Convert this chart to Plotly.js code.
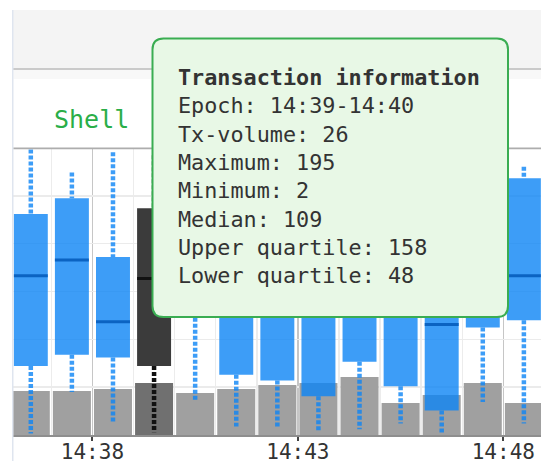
<!DOCTYPE html>
<html>
<head>
<meta charset="utf-8">
<script src="https://cdn.plot.ly/plotly-3.0.1.min.js"></script>
<style>html,body{margin:0;padding:0;background:#fff;}#chart{width:541px;height:461px;}</style>
</head>
<body>
<div id="chart"></div>
<script>
// ---- data ----
const epochs = ['14:36','14:37','14:38','14:39','14:40','14:41','14:42','14:43','14:44','14:45','14:46','14:47','14:48'];
const txVolume = [22, 22, 23, 26, 21, 23, 25, 26, 29, 16, 20, 26, 16];
const maximum = [199, 183, 197, 195, 190, 192, 185, 198, 180, 190, 170, 175, 187];
const minimum = [1, 30, 8, 2, 24, 6, 5, 2, 4, 8, 1, 23, 8];
const median = [111, 122, 79, 109, 125, 110, 100, 105, 95, 90, 77, 110, 111];
const upperQuartile = [154, 165, 124, 158, 160, 165, 150, 170, 150, 140, 130, 135, 179];
const lowerQuartile = [48, 56, 54, 48, 90, 42, 38, 27, 51, 34, 17, 75, 80];
const selectedIndex = 3;
const seriesLabel = 'Shell';

// ---- helpers ----
function toMs(hm, sec) {
  const p = hm.split(':');
  return Date.UTC(2024, 4, 20, +p[0], +p[1], sec || 0);
}
const W = 541, H = 461, ML = 13, MR = 0, MT = 148, MB = 26;
const PW = W - ML - MR, PH = H - MT - MB;
const xp = px => (px - ML) / PW;
const yp = py => (H - MB - py) / PH;

const centers = epochs.map(e => toMs(e, 30));
const boxHalf = 24800, boxW = 49600, volW = 55500;

const blue = 'rgba(13,132,245,0.8)';
const medBlue = '#0b63c2';
const dark = '#3b3b3b';
const darkLine = '#111111';

function whiskerXY(idx) {
  const x = [], y = [];
  idx.forEach(i => {
    x.push(centers[i], centers[i], null, centers[i], centers[i], null);
    y.push(maximum[i], upperQuartile[i], null, lowerQuartile[i], minimum[i], null);
  });
  return {x, y};
}
function medianXY(idx) {
  const x = [], y = [];
  idx.forEach(i => {
    x.push(centers[i] - boxHalf, centers[i] + boxHalf, null);
    y.push(median[i], median[i], null);
  });
  return {x, y};
}
const all = epochs.map((_, i) => i);
const normal = all.filter(i => i !== selectedIndex);
const sel = [selectedIndex];

const wN = whiskerXY(normal), wS = whiskerXY(sel);
const mN = medianXY(normal), mS = medianXY(sel);

const traces = [
  {type: 'bar', x: centers, y: txVolume, width: volW, yaxis: 'y',
   marker: {color: all.map(i => i === selectedIndex ? '#707070' : '#a0a0a0'), line: {width: 0}},
   hoverinfo: 'skip'},
  {type: 'bar', x: centers, base: lowerQuartile, y: all.map(i => upperQuartile[i] - lowerQuartile[i]),
   width: boxW, yaxis: 'y2',
   marker: {color: all.map(i => i === selectedIndex ? dark : blue), line: {width: 0}},
   hoverinfo: 'skip'},
  {type: 'scatter', mode: 'lines', x: wN.x, y: wN.y, yaxis: 'y2',
   line: {color: blue, width: 4.5, dash: '4px,2px'}, hoverinfo: 'skip'},
  {type: 'scatter', mode: 'lines', x: wS.x, y: wS.y, yaxis: 'y2',
   line: {color: darkLine, width: 4.5, dash: '4px,2px'}, hoverinfo: 'skip'},
  {type: 'scatter', mode: 'lines', x: mN.x, y: mN.y, yaxis: 'y2',
   line: {color: medBlue, width: 3}, hoverinfo: 'skip'},
  {type: 'scatter', mode: 'lines', x: mS.x, y: mS.y, yaxis: 'y2',
   line: {color: darkLine, width: 3}, hoverinfo: 'skip'}
];

const volMax = PH / 2;
const priceMax = 200;

// tooltip path with rounded corners (pixel -> paper)
function roundRect(l, t, r, b, rad) {
  const P = (x, y) => xp(x) + ',' + yp(y);
  return 'M' + P(l + rad, t) + ' L' + P(r - rad, t) + ' Q' + P(r, t) + ' ' + P(r, t + rad) +
    ' L' + P(r, b - rad) + ' Q' + P(r, b) + ' ' + P(r - rad, b) +
    ' L' + P(l + rad, b) + ' Q' + P(l, b) + ' ' + P(l, b - rad) +
    ' L' + P(l, t + rad) + ' Q' + P(l, t) + ' ' + P(l + rad, t) + ' Z';
}

const s = selectedIndex;
const endEpoch = s + 1 < epochs.length ? epochs[s + 1] : '';
const tipLines = [
  '<b>Transaction information</b>',
  'Epoch: ' + epochs[s] + '-' + endEpoch,
  'Tx-volume: ' + txVolume[s],
  'Maximum: ' + maximum[s],
  'Minimum: ' + minimum[s],
  'Median: ' + median[s],
  'Upper quartile: ' + upperQuartile[s],
  'Lower quartile: ' + lowerQuartile[s]
];

const rect = (x0, y0, x1, y1, color) => ({type: 'rect', xref: 'paper', yref: 'paper',
  x0: xp(x0), x1: xp(x1), y0: yp(y0), y1: yp(y1), fillcolor: color, line: {width: 0}, layer: 'above'});

const layout = {
  width: W, height: H,
  margin: {l: ML, r: MR, t: MT, b: MB, pad: 0},
  paper_bgcolor: '#ffffff', plot_bgcolor: '#ffffff',
  showlegend: false, barmode: 'overlay', hovermode: false,
  xaxis: {
    type: 'date',
    range: [toMs('14:36', 4.7), toMs('14:48', 55.5)],
    tick0: toMs('14:38', 0), dtick: 300000, tickformat: '%H:%M',
    showgrid: true, gridcolor: '#c6c6c6', gridwidth: 1.5,
    minor: {dtick: 60000, tick0: toMs('14:38', 0), showgrid: true, gridcolor: '#ececec', gridwidth: 1.5, ticks: ''},
    showline: true, linecolor: '#8e8e8e', linewidth: 2,
    ticks: 'outside', ticklen: 4, tickwidth: 2, tickcolor: '#444',
    ticklabelstandoff: -7,
    tickfont: {family: 'DejaVu Sans Mono', size: 21, color: '#333'},
    zeroline: false, fixedrange: true
  },
  yaxis: {
    range: [0, volMax],
    tickvals: [1, 2, 3, 4, 5].map(k => k * volMax / 6),
    showticklabels: false, ticks: '', showgrid: true, gridcolor: '#ebebeb', gridwidth: 1.5,
    zeroline: false, showline: false, fixedrange: true
  },
  yaxis2: {
    overlaying: 'y', range: [0, priceMax], visible: false, showgrid: false, zeroline: false, fixedrange: true
  },
  shapes: [
    rect(12, 10, 541, 68, '#f4f4f4'),
    rect(12, 68, 541, 70, '#cacaca'),
    rect(13.5, 70, 541, 79, '#f8f8f8'),
    rect(12, 10, 13.5, 461, '#dfe5ef'),
    rect(13.5, 147.5, 541, 149.3, '#adadad'),
    {type: 'path', xref: 'paper', yref: 'paper', path: roundRect(152.5, 38.5, 508, 317, 11),
     fillcolor: '#e8f8e6', line: {color: '#3aad52', width: 2}, layer: 'above'}
  ],
  annotations: [
    {xref: 'paper', yref: 'paper', x: xp(52), y: yp(120), xanchor: 'left', yanchor: 'middle',
     text: seriesLabel, showarrow: false, font: {family: 'DejaVu Sans Mono', size: 25, color: '#2aae48'}},
    {xref: 'paper', yref: 'paper', x: xp(177), y: yp(176.5), xanchor: 'left', yanchor: 'middle', align: 'left',
     text: tipLines.join('<br>'), showarrow: false, borderpad: 0,
     font: {family: 'DejaVu Sans Mono', size: 21.8, color: '#333333'}}
  ]
};

Plotly.newPlot('chart', traces, layout, {staticPlot: true, displayModeBar: false});
</script>
</body>
</html>
